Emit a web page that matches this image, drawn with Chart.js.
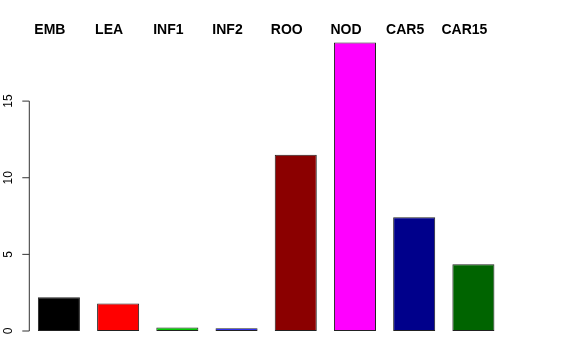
<!DOCTYPE html>
<html>
<head>
<meta charset="utf-8">
<script src="https://cdn.jsdelivr.net/npm/chart.js@4/dist/chart.umd.min.js"></script>
<style>
  html, body { margin: 0; padding: 0; background: #fff; }
  #wrap { width: 576px; height: 360px; }
</style>
</head>
<body>
<div id="wrap"><canvas id="barChart"></canvas></div>
<script>
// data
const categories = ['EMB', 'LEA', 'INF1', 'INF2', 'ROO', 'NOD', 'CAR5', 'CAR15'];
const values = [2.2, 1.8, 0.23, 0.18, 11.5, 18.82, 7.43, 4.35];
const yTicks = [0, 5, 10, 15];
const barColors = ['#000000', '#FF0000', '#00CD00', '#0000FF', '#8B0000', '#FF00FF', '#00008B', '#006400'];

// R-style left axis: line only from first to last tick, labels turned 90 degrees
const rAxis = {
  id: 'rAxis',
  afterDraw(chart) {
    const ctx = chart.ctx;
    const y = chart.scales.y;
    const x0 = chart.chartArea.left;
    ctx.save();
    ctx.strokeStyle = '#333';
    ctx.lineWidth = 1;
    ctx.beginPath();
    ctx.moveTo(x0, y.getPixelForValue(yTicks[0]));
    ctx.lineTo(x0, y.getPixelForValue(yTicks[yTicks.length - 1]));
    yTicks.forEach(t => {
      const py = y.getPixelForValue(t);
      ctx.moveTo(x0, py);
      ctx.lineTo(x0 - 7, py);
    });
    ctx.stroke();

    ctx.fillStyle = '#000';
    ctx.font = '12px "Liberation Sans", Arial, sans-serif';
    ctx.textAlign = 'center';
    ctx.textBaseline = 'middle';
    yTicks.forEach(t => {
      const py = y.getPixelForValue(t);
      ctx.save();
      ctx.translate(9, py);
      ctx.rotate(-Math.PI / 2);
      ctx.fillText(String(t), 0, 0);
      ctx.restore();
    });
    ctx.restore();
  }
};

new Chart(document.getElementById('barChart'), {
  type: 'bar',
  data: {
    labels: categories,
    datasets: [{
      data: values,
      backgroundColor: barColors,
      borderColor: '#222',
      borderWidth: 1,
      borderSkipped: false,
      barPercentage: 0.71,
      categoryPercentage: 1.0
    }]
  },
  options: {
    responsive: true,
    maintainAspectRatio: false,
    animation: false,
    layout: { padding: { left: 29.3, right: 73, top: 21, bottom: 29 } },
    plugins: { legend: { display: false }, tooltip: { enabled: false } },
    scales: {
      x: {
        position: 'top',
        grid: { display: false, drawTicks: false },
        border: { display: false },
        ticks: {
          color: '#000',
          padding: 1,
          labelOffset: -9,
          maxRotation: 0,
          autoSkip: false,
          font: { family: '"Liberation Sans", Arial, sans-serif', size: 14, weight: 'bold' }
        }
      },
      y: {
        display: false,
        min: 0,
        max: 19
      }
    }
  },
  plugins: [rAxis]
});
</script>
</body>
</html>
